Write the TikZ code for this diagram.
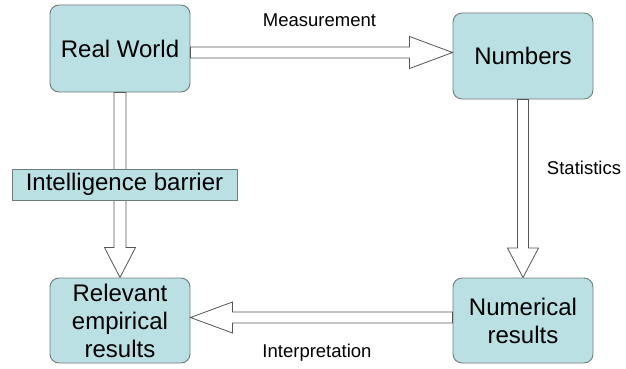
\documentclass[tikz,border=0pt]{standalone}
\usepackage{fontspec}
\setmainfont{Liberation Sans}
\usetikzlibrary{calc}
\definecolor{boxfill}{HTML}{BBE0E3}
\definecolor{boxline}{HTML}{6F7C7E}
\definecolor{arrline}{HTML}{555555}
\begin{document}
\begin{tikzpicture}[x=1pt,y=-1pt,
  stage/.style={draw=boxline, fill=boxfill, line width=0.9pt, rounded corners=9pt,
    minimum width=140pt, inner sep=0pt, align=center,
    font=\fontsize{24}{28}\selectfont},
  barrier/.style={draw=boxline, fill=boxfill, line width=0.9pt,
    minimum width=225pt, minimum height=31pt, inner sep=0pt,
    font=\fontsize{24}{28}\selectfont},
  lbl/.style={font=\fontsize{18.5}{22}\selectfont, inner sep=0pt},
  barrow/.style={draw=arrline, fill=white, line width=0.8pt, line join=miter}]
\useasboundingbox (0,0) rectangle (626,369);

% stages of the cycle
\node[stage, minimum height=87pt] (rw)  at (120,48.5)  {Real World};
\node[stage, minimum height=86pt] (num) at (523,56)    {Numbers};
\node[stage, minimum height=85pt] (rel) at (120,320.5) {Relevant\\empirical\\results};
\node[stage, minimum height=85pt] (nres) at (523,320.5) {Numerical\\results};

% Real World -> Numbers (horizontal block arrow)
\draw[barrow] let \p1=(rw.east), \p2=(num.west) in
  (\x1,-47pt) -- (\x2-43pt,-47pt) -- (\x2-43pt,-36.5pt) -- (\x2,-52.5pt)
  -- (\x2-43pt,-68.5pt) -- (\x2-43pt,-58pt) -- (\x1,-58pt) -- cycle;

% Numbers -> Numerical results
\draw[barrow] let \p1=(num.south), \p2=(nres.north) in
  (\x1-5.5pt,\y1) -- (\x1-5.5pt,\y2+29.5pt) -- (\x1-15.5pt,\y2+29.5pt) -- (\x2,\y2)
  -- (\x1+15.5pt,\y2+29.5pt) -- (\x1+5.5pt,\y2+29.5pt) -- (\x1+5.5pt,\y1) -- cycle;

% Numerical results -> Relevant empirical results
\draw[barrow] let \p1=(nres.west), \p2=(rel.east) in
  (\x1,-312pt) -- (\x2+42pt,-312pt) -- (\x2+42pt,-302pt) -- (\x2,-317.5pt)
  -- (\x2+42pt,-333pt) -- (\x2+42pt,-323pt) -- (\x1,-323pt) -- cycle;

% Real World -> Relevant empirical results
\draw[barrow] let \p1=(rw.south), \p2=(rel.north) in
  (\x1-6pt,\y1) -- (\x1-6pt,\y2+30pt) -- (\x1-15.5pt,\y2+30pt) -- (\x2,\y2)
  -- (\x1+15.5pt,\y2+30pt) -- (\x1+6pt,\y2+30pt) -- (\x1+6pt,\y1) -- cycle;

% the barrier sits across the left arrow
\node[barrier] (ib) at (124.5,184.5) {Intelligence barrier};

% arrow labels
\node[lbl] (lm) at (319.5,20)  {Measurement};
\node[lbl] (ls) at (584,168)   {Statistics};
\node[lbl] (li) at (317,353)   {Interpretation};
\end{tikzpicture}
\end{document}
